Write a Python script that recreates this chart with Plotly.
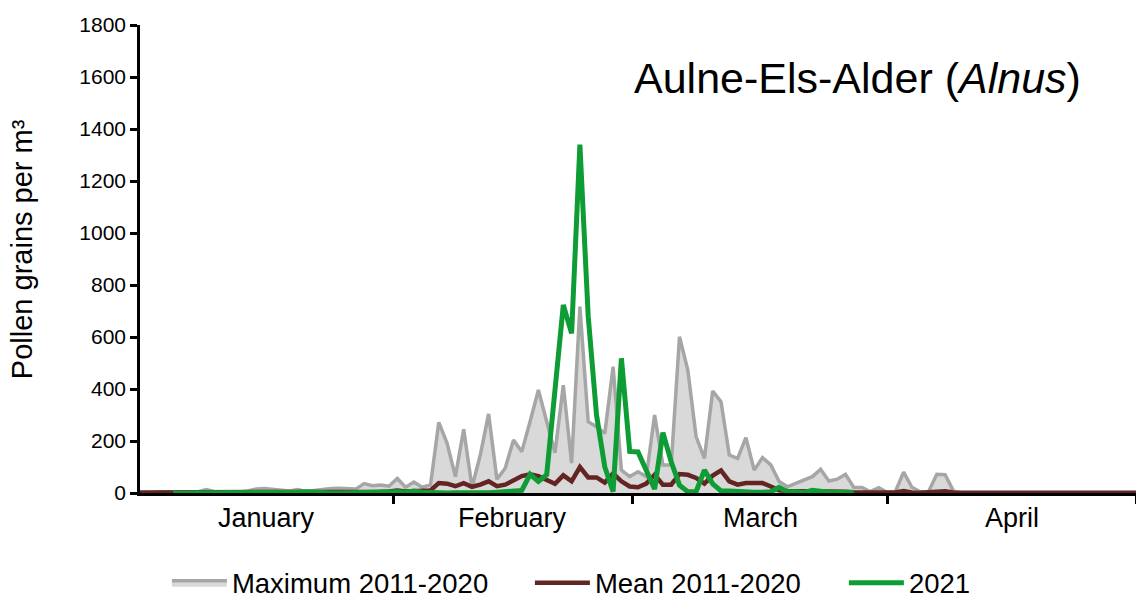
import plotly.graph_objects as go

days = list(range(121))

maximum = [0, 0, 2, 5, 2, 3, 2, 5, 13, 5, 3, 5, 3, 8, 15, 17, 15, 10, 8, 13,
           5, 10, 15, 17, 18, 17, 15, 36, 28, 31, 26, 56, 22, 42, 22, 31, 272, 191, 63, 245,
           22, 146, 304, 53, 95, 204, 159, 275, 396, 275, 155, 415, 115, 717, 274, 255, 229, 486, 88, 63,
           82, 63, 300, 108, 108, 601, 473, 217, 133, 392, 351, 146, 133, 213, 88, 136, 108, 44, 24, 37,
           50, 63, 91, 46, 53, 72, 21, 21, 5, 20, 3, 5, 80, 22, 5, 5, 72, 70, 8, 0,
           0, 0, 0, 0, 0, 0, 0, 0, 0, 0, 0, 0, 0, 0, 0, 0, 0, 0, 0, 0, 0]

mean = [2, 2, 2, 3, 2, 1, 2, 2, 3, 2, 1, 2, 2, 2, 3, 3, 2, 2, 2, 3,
        2, 2, 3, 3, 3, 3, 3, 5, 4, 5, 6, 10, 6, 8, 6, 10, 38, 36, 26, 38,
        24, 32, 45, 26, 32, 50, 65, 72, 65, 50, 35, 68, 45, 100, 60, 60, 40, 75, 45, 25,
        22, 36, 70, 32, 32, 73, 70, 58, 36, 67, 87, 45, 32, 38, 36, 38, 25, 10, 8, 8,
        7, 6, 8, 6, 5, 5, 3, 2, 2, 3, 1, 2, 8, 2, 1, 2, 7, 7, 2, 1,
        1, 1, 1, 1, 1, 1, 1, 1, 1, 1, 1, 1, 1, 1, 1, 1, 1, 1, 1, 1, 1]

y2021 = [None, None, None, None, 0, 0, 0, 1, 0, 0, 1, 0, 0, 0, 1, 0, 0, 0, 2, 3,
         5, 2, 1, 0, 0, 1, 2, 1, 0, 1, 2, 5, 3, 8, 3, 1, 0, 0, 1, 0,
         1, 2, 1, 3, 5, 5, 10, 72, 44, 70, 400, 723, 614, 1340, 680, 300, 100, 5, 518, 160,
         158, 88, 15, 232, 120, 30, 5, 5, 88, 35, 8, 8, 5, 2, 3, 3, 5, 22, 5, 5,
         2, 10, 5, 3, 3, 3, 2] + [None] * 34

months = ["January", "February", "March", "April"]
month_bounds = [0, 30.5, 59.3, 90.1, 120]
y_ticks = list(range(0, 2000, 200))

FONT = "Liberation Sans, Arial, sans-serif"

fig = go.Figure()
fig.add_trace(go.Scatter(
    x=days, y=maximum, name="Maximum 2011-2020", mode="lines",
    fill="tozeroy", fillcolor="#D9D9D9",
    line=dict(color="#A6A6A6", width=3.5), legendwidth=293,
))
fig.add_trace(go.Scatter(
    x=days, y=mean, name="Mean 2011-2020", mode="lines",
    line=dict(color="#632523", width=4.5), legendwidth=244,
))
fig.add_trace(go.Scatter(
    x=days, y=y2021, name="2021", mode="lines",
    line=dict(color="#0E9C35", width=5),
))

annotations = []
for i, m in enumerate(months):
    annotations.append(dict(
        x=(month_bounds[i] + month_bounds[i + 1]) / 2, y=-0.053,
        xref="x", yref="paper", text=m, showarrow=False,
        font=dict(family=FONT, size=27, color="#000000"),
        xanchor="center", yanchor="middle",
    ))
annotations.append(dict(
    x=0.9468, y=0.887, xref="paper", yref="paper",
    text="Aulne-Els-Alder (<i>Alnus</i>)", showarrow=False,
    font=dict(family=FONT, size=43, color="#000000"),
    xanchor="right", yanchor="middle",
))
annotations.append(dict(
    x=-0.1185, y=0.521, xref="paper", yref="paper",
    text="Pollen grains per m³", showarrow=False, textangle=-90,
    font=dict(family=FONT, size=29, color="#000000"),
    xanchor="center", yanchor="middle",
))

fig.update_layout(
    width=1136, height=600,
    margin=dict(l=140, r=0, t=25, b=107, autoexpand=False),
    paper_bgcolor="white", plot_bgcolor="white",
    showlegend=True,
    legend=dict(
        orientation="h", x=0.027, xanchor="left", y=-0.192, yanchor="middle",
        font=dict(family=FONT, size=27.5, color="#000000"),
        itemwidth=55, traceorder="normal",
    ),
    annotations=annotations,
    xaxis=dict(
        range=[0, 120], showgrid=False, zeroline=False,
        showline=True, linecolor="#000000", linewidth=2.5,
        tickmode="array", tickvals=month_bounds[1:], ticktext=[""] * 4,
        ticks="outside", ticklen=8, tickwidth=2.5, tickcolor="#000000",
    ),
    yaxis=dict(
        range=[0, 1800], showgrid=False, zeroline=False,
        showline=True, linecolor="#000000", linewidth=2.5,
        tickmode="array", tickvals=y_ticks,
        ticks="outside", ticklen=7, tickwidth=2.5, tickcolor="#000000",
        tickfont=dict(family=FONT, size=21, color="#000000"),
    ),
)

fig.write_html(
    "out.html",
    config={"displayModeBar": False},
    post_script="document.body.style.margin='0';document.body.style.overflow='hidden';",
)
